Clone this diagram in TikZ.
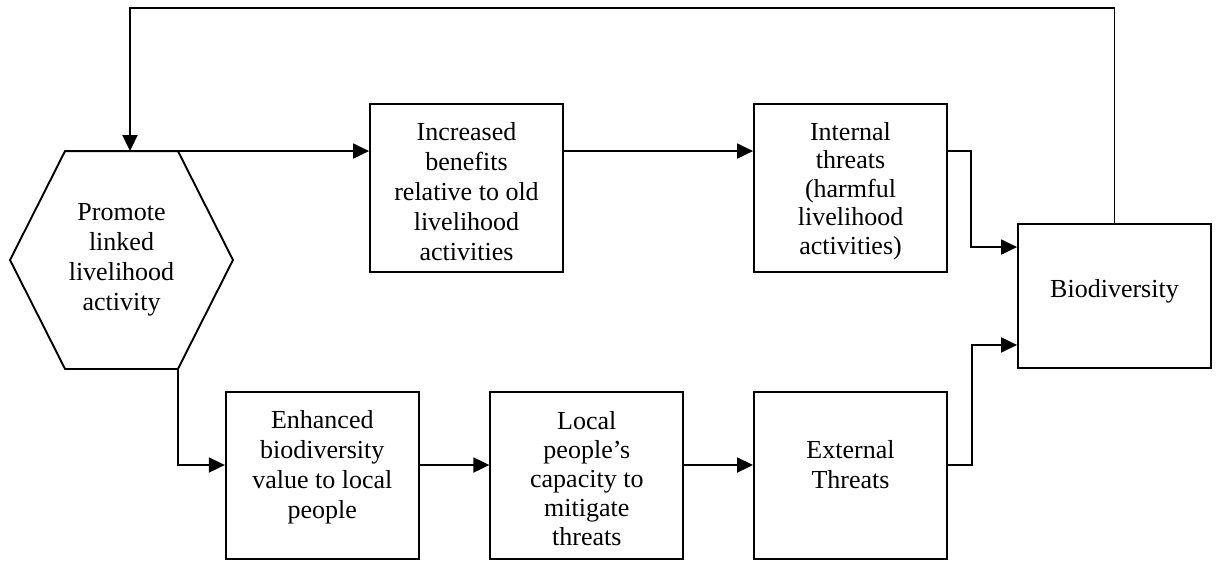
\documentclass[tikz,border=0pt]{standalone}
\usepackage{fontspec}
\setmainfont{Liberation Serif}
\usetikzlibrary{arrows.meta,calc}
\begin{document}
\begin{tikzpicture}[x=1pt,y=-1pt,line width=1.9pt,
  txt/.style={font=\fontsize{26}{30}\selectfont, align=center, inner sep=0pt},
  box/.style={draw, minimum width=193pt, minimum height=#1, inner sep=0pt},
  arr/.style={-{Triangle[length=16pt,width=15pt]}, line join=miter}]
\useasboundingbox (0,0) rectangle (1217,560);
% hexagon
\node[txt, minimum width=221pt, minimum height=216pt] (hex) at (121.5,260) {Promote\\linked\\livelihood\\activity};
\draw[line join=miter] (hex.west) -- ($(hex.north west)+(55,0)$) coordinate (htl)
  -- ($(hex.north east)+(-55,0)$) coordinate (htr) -- (hex.east)
  -- ($(hex.south east)+(-55,0)$) coordinate (hbr)
  -- ($(hex.south west)+(55,0)$) -- cycle;
% boxes
\node[box=168pt, label={[txt,yshift=-4pt]center:Increased\\benefits\\relative to old\\livelihood\\activities}] (inc) at (466.5,188) {};
\node[box=168pt, label={[txt,font=\fontsize{26}{28.5}\selectfont,yshift=-3pt]center:Internal\\threats\\(harmful\\livelihood\\activities)}] (int) at (850.5,188) {};
\node[box=144pt, label={[txt,yshift=5pt]center:Biodiversity}] (bio) at (1114.5,296) {};
\node[box=167pt, label={[txt,yshift=8.5pt]center:Enhanced\\biodiversity\\value to local\\people}] (enh) at (322.3,475.5) {};
\node[box=167pt, label={[txt,font=\fontsize{26}{29}\selectfont,yshift=-3pt]center:Local\\people’s\\capacity to\\mitigate\\threats}] (loc) at (586.8,475.5) {};
\node[box=167pt, label={[txt,yshift=11pt]center:External\\Threats}] (ext) at (850.5,475.5) {};
% helper coordinates
\coordinate (lr) at (0,465);
\coordinate (fb) at (130,8);
% top row
\draw[arr] (htr) -- (htr -| inc.west);
\draw[arr] (htr -| inc.east) -- (htr -| int.west);
\draw[arr] (htr -| int.east) -- ++(23,0) |- ($(bio.north west)+(0,24)$);
% feedback
\draw[arr] (bio.north) |- (fb) -- (fb |- htl);
% bottom row
\draw[arr] (hbr) -- (hbr |- lr) -- (lr -| enh.west);
\draw[arr] (lr -| enh.east) -- (lr -| loc.west);
\draw[arr] (lr -| loc.east) -- (lr -| ext.west);
\draw[arr] (lr -| ext.east) -- ++(24,0) |- ($(bio.south west)+(0,-24)$);
\end{tikzpicture}
\end{document}
